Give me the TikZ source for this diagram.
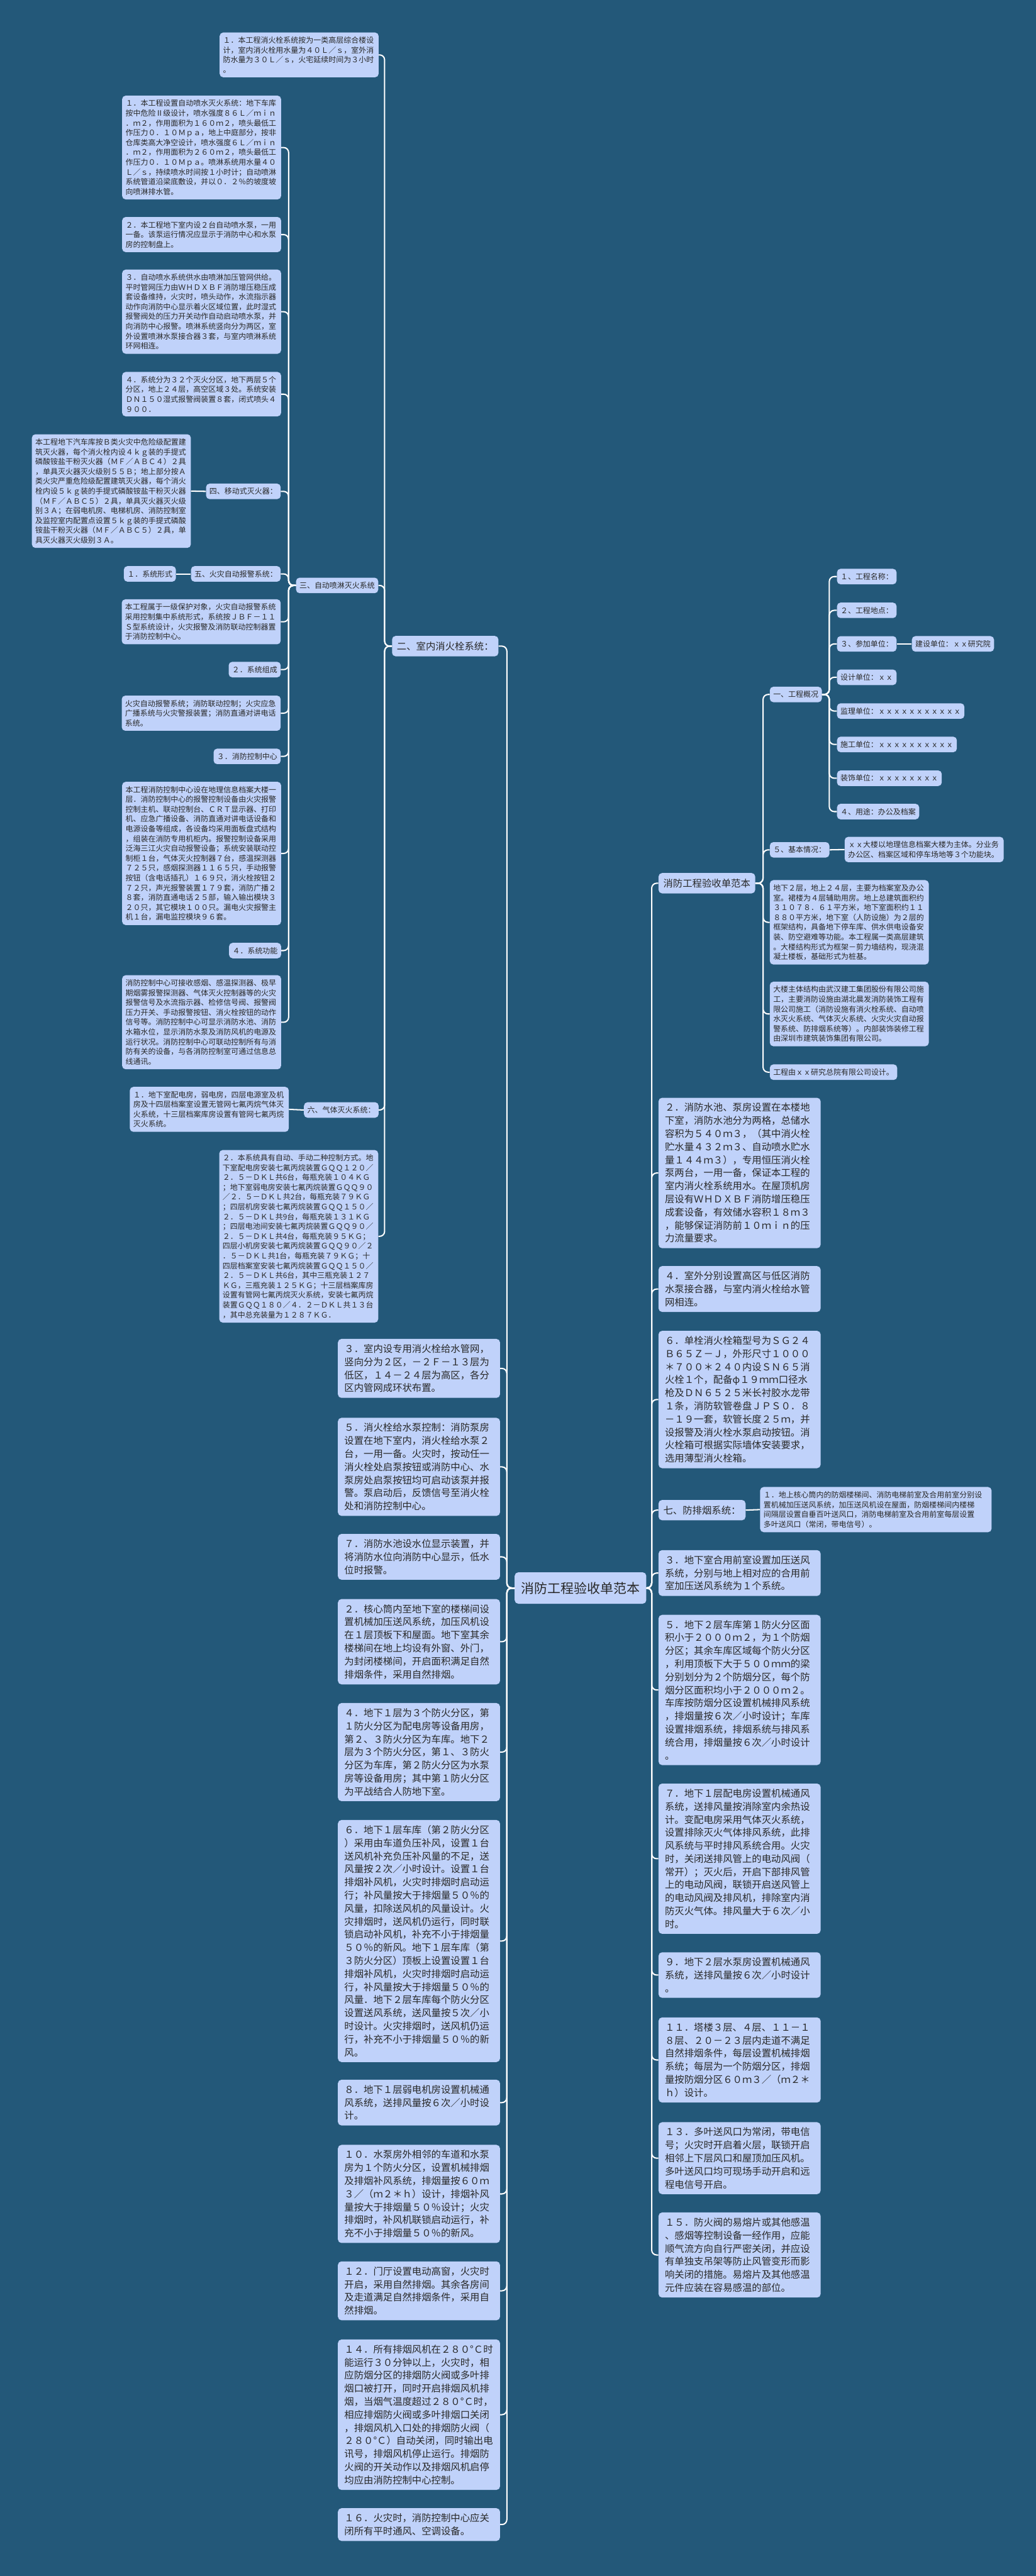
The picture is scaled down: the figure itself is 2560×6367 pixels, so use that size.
\documentclass[tikz,border=0pt]{standalone}
\usepackage{fontspec}
\newfontfamily\cjk{Noto Sans CJK SC}

\definecolor{bgcol}{RGB}{35,88,121}
\definecolor{boxfill}{RGB}{192,210,250}
\definecolor{txt}{RGB}{40,40,40}

\tikzset{
  basebox/.style={fill=boxfill, rounded corners=5pt, text=txt, align=left},
  rootbox/.style={basebox, font=\cjk\fontsize{18.5}{22}\selectfont, inner xsep=9.3pt, inner ysep=13.5pt},
  topicbox/.style={basebox, font=\cjk\fontsize{13.6}{18.4}\selectfont, inner xsep=6.8pt, inner ysep=8pt},
  notebox/.style={basebox, font=\cjk\fontsize{13.6}{18.4}\selectfont, inner xsep=9pt, inner ysep=7.5pt, text width=210pt},
  tagbox/.style={basebox, font=\cjk\fontsize{10.6}{13.8}\selectfont, inner xsep=4.8pt, inner ysep=6pt},
  memobox/.style={tagbox, text width=214pt},
  linkline/.style={draw=white, line width=1.8pt, rounded corners=7pt}
}

\begin{document}
\begin{tikzpicture}[x=0.02cm, y=-0.02cm]
\fill[bgcol] (0,0) rectangle (2560,6367);
\useasboundingbox (0,0) rectangle (2560,6367);

%%%%% root %%%%%
\node[rootbox] (root) at (1434.5,3925) {消防工程验收单范本};

%%%%% left: 二、室内消火栓系统 %%%%%
\node[topicbox, anchor=east] (two) at (1232,1597) {二、室内消火栓系统：};
\node[memobox, anchor=north east] (a1) at (936,80) {１．本工程消火栓系统按为一类高层综合楼设\\计，室内消火栓用水量为４０Ｌ／ｓ，室外消\\防水量为３０Ｌ／ｓ，火宅延续时间为３小时\\。};
\node[tagbox, anchor=east] (three) at (935,1447) {三、自动喷淋灭火系统};
\node[memobox, anchor=north east] (s1) at (695,236) {１．本工程设置自动喷水灭火系统：地下车库\\按中危险Ⅱ级设计，喷水强度８６Ｌ／ｍｉｎ\\．ｍ２，作用面积为１６０ｍ２，喷头最低工\\作压力０．１０Ｍｐａ，地上中庭部分，按非\\仓库类高大净空设计，喷水强度６Ｌ／ｍｉｎ\\．ｍ２，作用面积为２６０ｍ２，喷头最低工\\作压力０．１０Ｍｐａ。喷淋系统用水量４０\\Ｌ／ｓ，持续喷水时间按１小时计；自动喷淋\\系统管道沿梁底敷设，并以０．２％的坡度坡\\向喷淋排水管。};
\node[memobox, anchor=north east] (s2) at (695,536) {２．本工程地下室内设２台自动喷水泵，一用\\一备。该泵运行情况应显示于消防中心和水泵\\房的控制盘上。};
\node[memobox, anchor=north east] (s3) at (695,666) {３．自动喷水系统供水由喷淋加压管网供给。\\平时管网压力由ＷＨＤＸＢＦ消防增压稳压成\\套设备维持，火灾时，喷头动作，水流指示器\\动作向消防中心显示着火区域位置，此时湿式\\报警阀处的压力开关动作自动启动喷水泵，并\\向消防中心报警。喷淋系统竖向分为两区，室\\外设置喷淋水泵接合器３套，与室内喷淋系统\\环网相连。};
\node[memobox, anchor=north east] (s4) at (695,919) {４．系统分为３２个灭火分区，地下两层５个\\分区，地上２４层，高空区域３处。系统安装\\ＤＮ１５０湿式报警阀装置８套，闭式喷头４\\９００．};
\node[tagbox, anchor=east] (four) at (694,1214.5) {四、移动式灭火器：};
\node[memobox, anchor=north east] (e4) at (472,1073) {本工程地下汽车库按Ｂ类火灾中危险级配置建\\筑灭火器，每个消火栓内设４ｋｇ装的手提式\\磷酸铵盐干粉灭火器（ＭＦ／ＡＢＣ４）２具\\，单具灭火器灭火级别５５Ｂ；地上部分按Ａ\\类火灾严重危险级配置建筑灭火器，每个消火\\栓内设５ｋｇ装的手提式磷酸铵盐干粉灭火器\\（ＭＦ／ＡＢＣ５）２具，单具灭火器灭火级\\别３Ａ；在弱电机房、电梯机房、消防控制室\\及监控室内配置点设置５ｋｇ装的手提式磷酸\\铵盐干粉灭火器（ＭＦ／ＡＢＣ５）２具，单\\具灭火器灭火级别３Ａ。};
\node[tagbox, anchor=east] (five) at (694,1418.5) {五、火灾自动报警系统：};
\node[tagbox, anchor=east] (f1) at (435,1418.5) {１．系统形式};
\node[memobox, anchor=north east] (f1t) at (694,1481) {本工程属于一级保护对象，火灾自动报警系统\\采用控制集中系统形式，系统按ＪＢＦ－１１\\Ｓ型系统设计，火灾报警及消防联动控制器置\\于消防控制中心。};
\node[tagbox, anchor=east] (f2) at (694,1655) {２．系统组成};
\node[memobox, anchor=north east] (f2t) at (694,1719) {火灾自动报警系统；消防联动控制；火灾应急\\广播系统与火灾警报装置；消防直通对讲电话\\系统。};
\node[tagbox, anchor=east] (f3) at (694,1869.5) {３．消防控制中心};
\node[memobox, anchor=north east] (f3t) at (695,1932) {本工程消防控制中心设在地理信息档案大楼一\\层．消防控制中心的报警控制设备由火灾报警\\控制主机、联动控制台、ＣＲＴ显示器、打印\\机、应急广播设备、消防直通对讲电话设备和\\电源设备等组成，各设备均采用面板盘式结构\\，组装在消防专用机柜内。报警控制设备采用\\泛海三江火灾自动报警设备；系统安装联动控\\制柜１台，气体灭火控制器７台，感温探测器\\７２５只，感烟探测器１１６５只，手动报警\\按钮（含电话插孔）１６９只，消火栓按钮２\\７２只，声光报警装置１７９套，消防广播２\\８套，消防直通电话２５部，输入输出模块３\\２０只，其它模块１００只。漏电火灾报警主\\机１台，漏电监控模块９６套。};
\node[tagbox, anchor=east] (f4) at (695,2349.5) {４．系统功能};
\node[memobox, anchor=north east] (f4t) at (695,2410) {消防控制中心可接收感烟、感温探测器、极早\\期烟雾报警探测器、气体灭火控制器等的火灾\\报警信号及水流指示器、检修信号阀、报警阀\\压力开关、手动报警按钮、消火栓按钮的动作\\信号等。消防控制中心可显示消防水池、消防\\水箱水位，显示消防水泵及消防风机的电源及\\运行状况。消防控制中心可联动控制所有与消\\防有关的设备，与各消防控制室可通过信息总\\线通讯。};
\node[tagbox, anchor=east] (six) at (936,2743.5) {六、气体灭火系统：};
\node[memobox, anchor=north east] (g1) at (714,2686) {１．地下室配电房，弱电房，四层电源室及机\\房及十四层档案室设置无管网七氟丙烷气体灭\\火系统，十三层档案库房设置有管网七氟丙烷\\灭火系统。};
\node[memobox, anchor=north east] (g2) at (935,2842) {２．本系统具有自动、手动二种控制方式。地\\下室配电房安装七氟丙烷装置ＧＱＱ１２０／\\２．５－ＤＫＬ共6台，每瓶充装１０４ＫＧ\\；地下室弱电房安装七氟丙烷装置ＧＱＱ９０\\／２．５－ＤＫＬ共2台，每瓶充装７９ＫＧ\\；四层机房安装七氟丙烷装置ＧＱＱ１５０／\\２．５－ＤＫＬ共9台，每瓶充装１３１ＫＧ\\；四层电池间安装七氟丙烷装置ＧＱＱ９０／\\２．５－ＤＫＬ共4台，每瓶充装９５ＫＧ；\\四层小机房安装七氟丙烷装置ＧＱＱ９０／２\\．５－ＤＫＬ共1台，每瓶充装７９ＫＧ；十\\四层档案室安装七氟丙烷装置ＧＱＱ１５０／\\２．５－ＤＫＬ共6台，其中三瓶充装１２７\\ＫＧ，三瓶充装１２５ＫＧ；十三层档案库房\\设置有管网七氟丙烷灭火系统，安装七氟丙烷\\装置ＧＱＱ１８０／４．２－ＤＫＬ共１３台\\，其中总充装量为１２８７ＫＧ．};

%%%%% left: root items %%%%%
\node[notebox, anchor=north east] (l3) at (1236,3309) {３．室内设专用消火栓给水管网，\\竖向分为２区，－２Ｆ－１３层为\\低区，１４－２４层为高区，各分\\区内管网成环状布置。};
\node[notebox, anchor=north east] (l5) at (1236,3504) {５．消火栓给水泵控制：消防泵房\\设置在地下室内，消火栓给水泵２\\台，一用一备。火灾时，按动任一\\消火栓处启泵按钮或消防中心、水\\泵房处启泵按钮均可启动该泵并报\\警。泵启动后，反馈信号至消火栓\\处和消防控制中心。};
\node[notebox, anchor=north east] (l7) at (1236,3791) {７．消防水池设水位显示装置，并\\将消防水位向消防中心显示，低水\\位时报警。};
\node[notebox, anchor=north east] (l2) at (1236,3952) {２．核心筒内至地下室的楼梯间设\\置机械加压送风系统，加压风机设\\在１层顶板下和屋面。地下室其余\\楼梯间在地上均设有外窗、外门，\\为封闭楼梯间，开启面积满足自然\\排烟条件，采用自然排烟。};
\node[notebox, anchor=north east] (l4) at (1236,4209) {４．地下１层为３个防火分区，第\\１防火分区为配电房等设备用房，\\第２、３防火分区为车库。地下２\\层为３个防火分区，第１、３防火\\分区为车库，第２防火分区为水泵\\房等设备用房；其中第１防火分区\\为平战结合人防地下室。};
\node[notebox, anchor=north east] (l6) at (1236,4498) {６．地下１层车库（第２防火分区\\）采用由车道负压补风，设置１台\\送风机补充负压补风量的不足，送\\风量按２次／小时设计。设置１台\\排烟补风机，火灾时排烟时启动运\\行；补风量按大于排烟量５０％的\\风量，扣除送风机的风量设计。火\\灾排烟时，送风机仍运行，同时联\\锁启动补风机，补充不小于排烟量\\５０％的新风。地下１层车库（第\\３防火分区）顶板上设置设置１台\\排烟补风机，火灾时排烟时启动运\\行，补风量按大于排烟量５０％的\\风量．地下２层车库每个防火分区\\设置送风系统，送风量按５次／小\\时设计。火灾排烟时，送风机仍运\\行，补充不小于排烟量５０％的新\\风。};
\node[notebox, anchor=north east] (l8) at (1236,5140) {８．地下１层弱电机房设置机械通\\风系统，送排风量按６次／小时设\\计。};
\node[notebox, anchor=north east] (l10) at (1236,5301) {１０．水泵房外相邻的车道和水泵\\房为１个防火分区，设置机械排烟\\及排烟补风系统，排烟量按６０ｍ\\３／（ｍ２＊ｈ）设计，排烟补风\\量按大于排烟量５０％设计；火灾\\排烟时，补风机联锁启动运行，补\\充不小于排烟量５０％的新风。};
\node[notebox, anchor=north east] (l12) at (1236,5589) {１２．门厅设置电动高窗，火灾时\\开启，采用自然排烟。其余各房间\\及走道满足自然排烟条件，采用自\\然排烟。};
\node[notebox, anchor=north east] (l14) at (1236,5782) {１４．所有排烟风机在２８０°Ｃ时\\能运行３０分钟以上，火灾时，相\\应防烟分区的排烟防火阀或多叶排\\烟口被打开，同时开启排烟风机排\\烟，当烟气温度超过２８０°Ｃ时，\\相应排烟防火阀或多叶排烟口关闭\\，排烟风机入口处的排烟防火阀（\\２８０°Ｃ）自动关闭，同时输出电\\讯号，排烟风机停止运行。排烟防\\火阀的开关动作以及排烟风机启停\\均应由消防控制中心控制。};
\node[notebox, anchor=north east] (l16) at (1236,6199) {１６．火灾时，消防控制中心应关\\闭所有平时通风、空调设备。};

%%%%% right: 消防工程验收单范本 %%%%%
\node[topicbox, anchor=west] (sub) at (1627,2183) {消防工程验收单范本};
\node[tagbox, anchor=west] (one) at (1902,1716.5) {一、工程概况};
\node[tagbox, anchor=west] (p1) at (2068,1425) {１、工程名称：};
\node[tagbox, anchor=west] (p2) at (2068,1508.5) {２、工程地点：};
\node[tagbox, anchor=west] (p3) at (2068,1591.5) {３、参加单位：};
\node[tagbox, anchor=west] (p3a) at (2253,1591.5) {建设单位：ｘｘ研究院};
\node[tagbox, anchor=west] (p4) at (2068,1674) {设计单位：ｘｘ};
\node[tagbox, anchor=west] (p5) at (2068,1757.5) {监理单位：ｘｘｘｘｘｘｘｘｘｘｘ};
\node[tagbox, anchor=west] (p6) at (2068,1840) {施工单位：ｘｘｘｘｘｘｘｘｘｘ};
\node[tagbox, anchor=west] (p7) at (2068,1923.5) {装饰单位：ｘｘｘｘｘｘｘｘ};
\node[tagbox, anchor=west] (p8) at (2068,2006) {４、用途：办公及档案};
\node[tagbox, anchor=west] (fivb) at (1902,2100.5) {５、基本情况：};
\node[memobox, anchor=north west] (b5) at (2087,2068) {ｘｘ大楼以地理信息档案大楼为主体。分业务\\办公区、档案区域和停车场地等３个功能块。};
\node[memobox, anchor=north west] (q1) at (1902,2175) {地下２层，地上２４层，主要为档案室及办公\\室。裙楼为４层辅助用房。地上总建筑面积约\\３１０７８．６１平方米，地下室面积约１１\\８８０平方米，地下室（人防设施）为２层的\\框架结构，具备地下停车库、供水供电设备安\\装、防空避难等功能。本工程属一类高层建筑\\。大楼结构形式为框架－剪力墙结构，现浇混\\凝土楼板，基础形式为桩基。};
\node[memobox, anchor=north west] (q2) at (1902,2426) {大楼主体结构由武汉建工集团股份有限公司施\\工，主要消防设施由湖北晨发消防装饰工程有\\限公司施工（消防设施有消火栓系统、自动喷\\水灭火系统、气体灭火系统、火灾火灾自动报\\警系统、防排烟系统等）。内部装饰装修工程\\由深圳市建筑装饰集团有限公司。};
\node[tagbox, anchor=west] (q3) at (1902,2650) {工程由ｘｘ研究总院有限公司设计。};

%%%%% right: root items %%%%%
\node[notebox, anchor=north west] (r2) at (1627,2713) {２．消防水池、泵房设置在本楼地\\下室，消防水池分为两格，总储水\\容积为５４０ｍ３，（其中消火栓\\贮水量４３２ｍ３、自动喷水贮水\\量１４４ｍ３），专用恒压消火栓\\泵两台，一用一备，保证本工程的\\室内消火栓系统用水。在屋顶机房\\层设有ＷＨＤＸＢＦ消防增压稳压\\成套设备，有效储水容积１８ｍ３\\，能够保证消防前１０ｍｉｎ的压\\力流量要求。};
\node[notebox, anchor=north west] (r4) at (1627,3129) {４．室外分别设置高区与低区消防\\水泵接合器，与室内消火栓给水管\\网相连。};
\node[notebox, anchor=north west] (r6) at (1627,3289) {６．单栓消火栓箱型号为ＳＧ２４\\Ｂ６５Ｚ－Ｊ，外形尺寸１０００\\＊７００＊２４０内设ＳＮ６５消\\火栓１个，配备φ１９ｍｍ口径水\\枪及ＤＮ６５２５米长衬胶水龙带\\１条，消防软管卷盘ＪＰＳ０．８\\－１９一套，软管长度２５ｍ，并\\设报警及消火栓水泵启动按钮。消\\火栓箱可根据实际墙体安装要求，\\选用薄型消火栓箱。};
\node[topicbox, anchor=west] (seven) at (1627,3732.5) {七、防排烟系统：};
\node[tagbox, text width=316pt, anchor=north west] (h1) at (1878,3675) {１．地上核心筒内的防烟楼梯间、消防电梯前室及合用前室分别设\\置机械加压送风系统，加压送风机设在屋面，防烟楼梯间内楼梯\\间隔层设置自垂百叶送风口，消防电梯前室及合用前室每层设置\\多叶送风口（常闭，带电信号）。};
\node[notebox, anchor=north west] (r3) at (1627,3831) {３．地下室合用前室设置加压送风\\系统，分别与地上相对应的合用前\\室加压送风系统为１个系统。};
\node[notebox, anchor=north west] (r5) at (1627,3991) {５．地下２层车库第１防火分区面\\积小于２０００ｍ２，为１个防烟\\分区；其余车库区域每个防火分区\\，利用顶板下大于５００ｍｍ的梁\\分别划分为２个防烟分区，每个防\\烟分区面积均小于２０００ｍ２。\\车库按防烟分区设置机械排风系统\\，排烟量按６次／小时设计；车库\\设置排烟系统，排烟系统与排风系\\统合用，排烟量按６次／小时设计\\。};
\node[notebox, anchor=north west] (r7) at (1627,4408) {７．地下１层配电房设置机械通风\\系统，送排风量按消除室内余热设\\计。变配电房采用气体灭火系统，\\设置排除灭火气体排风系统，此排\\风系统与平时排风系统合用。火灾\\时，关闭送排风管上的电动风阀（\\常开）；灭火后，开启下部排风管\\上的电动风阀，联锁开启送风管上\\的电动风阀及排风机，排除室内消\\防灭火气体。排风量大于６次／小\\时。};
\node[notebox, anchor=north west] (r9) at (1627,4825) {９．地下２层水泵房设置机械通风\\系统，送排风量按６次／小时设计\\。};
\node[notebox, anchor=north west] (r11) at (1627,4986) {１１．塔楼３层、４层、１１－１\\８层、２０－２３层内走道不满足\\自然排烟条件，每层设置机械排烟\\系统；每层为一个防烟分区，排烟\\量按防烟分区６０ｍ３／（ｍ２＊\\ｈ）设计。};
\node[notebox, anchor=north west] (r13) at (1627,5245) {１３．多叶送风口为常闭，带电信\\号；火灾时开启着火层，联锁开启\\相邻上下层风口和屋顶加压风机。\\多叶送风口均可现场手动开启和远\\程电信号开启。};
\node[notebox, anchor=north west] (r15) at (1627,5468) {１５．防火阀的易熔片或其他感温\\、感烟等控制设备一经作用，应能\\顺气流方向自行严密关闭，并应设\\有单独支吊架等防止风管变形而影\\响关闭的措施。易熔片及其他感温\\元件应装在容易感温的部位。};

%%%%% links %%%%%
\foreach \c in {two,l3,l5,l7,l2,l4,l6,l8,l10,l12,l14,l16}
  \draw[linkline] (root.west) -- ++(-19,0) |- (\c.east);
\foreach \c in {sub,r2,r4,r6,seven,r3,r5,r7,r9,r11,r13,r15}
  \draw[linkline] (root.east) -- ++(13,0) |- (\c.west);
\foreach \c in {a1,three,six,g2}
  \draw[linkline] (two.west) -- ++(-18,0) |- (\c.east);
\foreach \c in {s1,s2,s3,s4,four,five,f1t,f2,f2t,f3,f3t,f4,f4t}
  \draw[linkline] (three.west) -- ++(-18,0) |- (\c.east);
\draw[linkline] (four.west) -- (e4.east);
\draw[linkline] (five.west) -- (f1.east);
\draw[linkline] (six.west) -- (g1.east);
\foreach \c in {one,fivb,q1,q2,q3}
  \draw[linkline] (sub.east) -- ++(19,0) |- (\c.west);
\foreach \c in {p1,p2,p3,p4,p5,p6,p7,p8}
  \draw[linkline] (one.east) -- ++(18,0) |- (\c.west);
\draw[linkline] (p3.east) -- (p3a.west);
\draw[linkline] (fivb.east) -- (b5.west);
\draw[linkline] (seven.east) -- (h1.west);
\end{tikzpicture}
\end{document}
